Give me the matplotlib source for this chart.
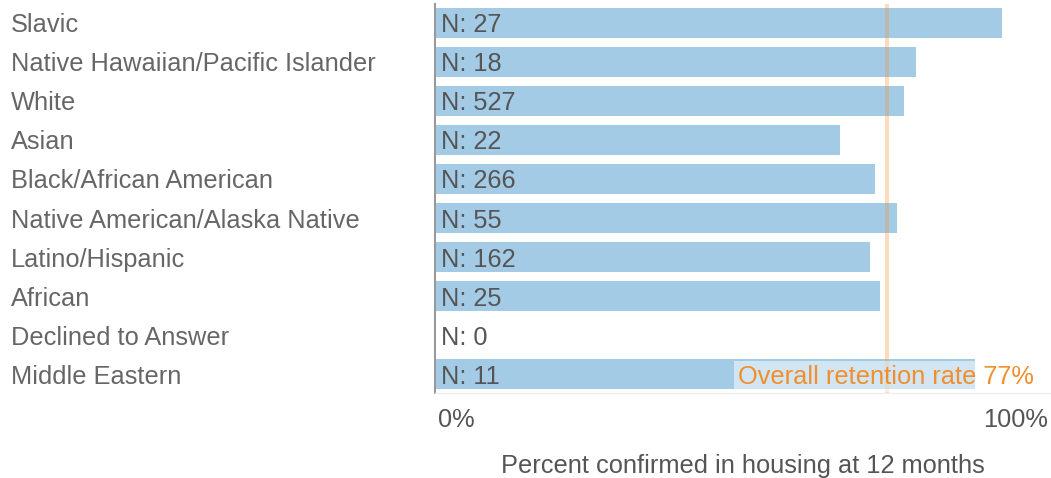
import matplotlib
matplotlib.use("Agg")
import matplotlib.pyplot as plt
from matplotlib.transforms import ScaledTranslation

categories = ["Slavic", "Native Hawaiian/Pacific Islander", "White", "Asian",
              "Black/African American", "Native American/Alaska Native",
              "Latino/Hispanic", "African", "Declined to Answer", "Middle Eastern"]
retention = [0.966, 0.819, 0.799, 0.690, 0.750, 0.787, 0.741, 0.758, 0.0, 0.920]
counts = [27, 18, 527, 22, 266, 55, 162, 25, 0, 11]
overall_rate = 0.77
tick_values = [0, 1]
tick_labels = ["0%", "100%"]

plt.rcParams['font.family'] = ['Liberation Sans', 'DejaVu Sans']

FS = 18.3
W, H = 1051, 478
fig = plt.figure(figsize=(W / 100, H / 100), dpi=100)
ax_left, ax_right, ax_top, ax_bottom = 435, 1051, 4, 393
ax = fig.add_axes([ax_left / W, (H - ax_bottom) / H, (ax_right - ax_left) / W, (ax_bottom - ax_top) / H])

bar_color = '#a4cbe6'
text_gray = '#555555'
label_gray = '#666666'
orange = '#f28e2b'

y = list(range(len(categories)))
ax.barh(y, retention, height=0.744, color=bar_color, zorder=1)
ax.set_ylim(9.487, -0.487)
ax.set_xlim(0, (ax_right - ax_left) / 587)

for yi, n in zip(y, counts):
    ax.text(0.01, yi, f"N: {n}", va='center_baseline', ha='left', fontsize=FS, color=text_gray, zorder=3)

ax.axvline(overall_rate, color=orange, alpha=0.3, lw=2.9, zorder=2)

ax.text((1034 - ax_left) / (ax_right - ax_left), 9, f"Overall retention rate {round(overall_rate*100)}%",
        transform=ax.get_yaxis_transform(), ha='right', va='center_baseline', fontsize=FS, color=orange, zorder=4,
        bbox=dict(boxstyle='square,pad=0.15', facecolor='white', edgecolor='none', alpha=0.5))

ax.set_yticks(y)
ax.set_yticklabels(categories, fontsize=FS, color=label_gray, va='center_baseline')
ax.tick_params(axis='y', length=0, pad=0)
for lbl in ax.get_yticklabels():
    lbl.set_horizontalalignment('left')
    lbl.set_transform(lbl.get_transform() + ScaledTranslation(-(ax_left - 11) / 100, 0, fig.dpi_scale_trans))

ax.set_xticks(tick_values)
ax.set_xticklabels(tick_labels, fontsize=FS, color=text_gray)
ax.tick_params(axis='x', length=0, pad=11)
xl = ax.get_xticklabels()
xl[0].set_horizontalalignment('left')
xl[0].set_transform(xl[0].get_transform() + ScaledTranslation(3 / 100, 0, fig.dpi_scale_trans))
xl[1].set_horizontalalignment('right')
xl[1].set_transform(xl[1].get_transform() + ScaledTranslation(26 / 100, 0, fig.dpi_scale_trans))

ax.set_xlabel("Percent confirmed in housing at 12 months", fontsize=FS, color=text_gray, labelpad=16)

for s in ['top', 'right']:
    ax.spines[s].set_visible(False)
ax.spines['left'].set_color('#999999')
ax.spines['left'].set_linewidth(1.5)
ax.spines['bottom'].set_color('#eeeeee')
ax.spines['bottom'].set_linewidth(1)

fig.savefig("out.png", dpi=100)
